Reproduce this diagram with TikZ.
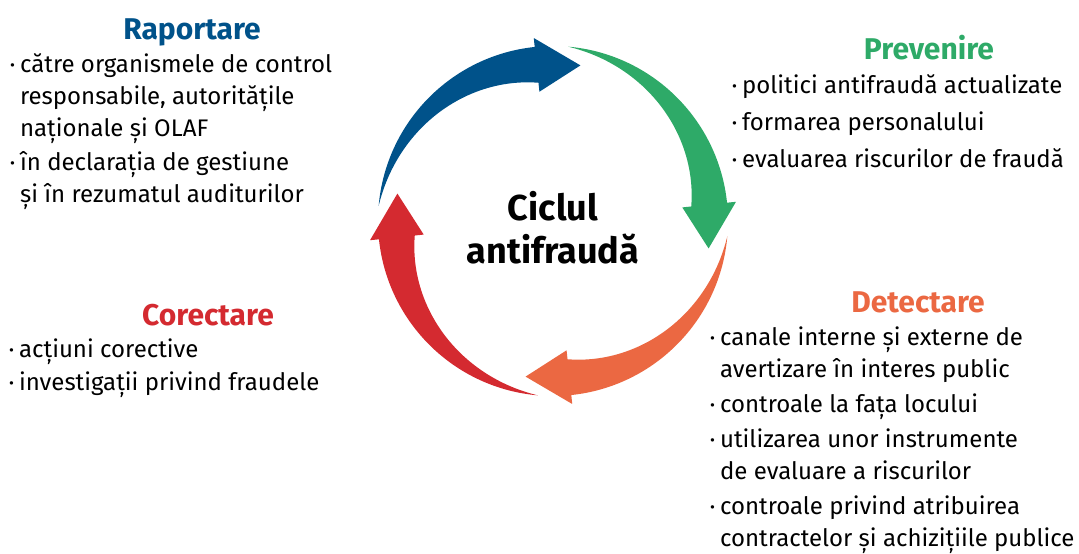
\documentclass[tikz,border=0pt]{standalone}
\usepackage{fontspec}
\setmainfont{Fira Sans}
\usepackage{tikz}
\usetikzlibrary{positioning}
\usetikzlibrary{calc}
\definecolor{rapblue}{RGB}{0,82,138}
\definecolor{prevgreen}{RGB}{46,170,104}
\definecolor{detorange}{RGB}{235,104,66}
\definecolor{corred}{RGB}{212,42,48}
\tikzset{every picture/.style={x=1pt,y=1pt},heading/.style={font=\fontsize{30}{36}\selectfont\bfseries,inner sep=0pt,anchor=base},bulletlist/.style={font=\fontsize{24}{32}\selectfont,inner sep=0pt,anchor=base west}}
\newcommand{\blt}{\raisebox{1.5pt}{\fontsize{15}{15}\selectfont\textbullet}}
\newcommand{\cyclearrow}[2]{%
\fill[#2] (#1:175) arc[start angle=#1, end angle=#1-79, radius=175] -- (#1-79:184) -- (#1-95:158) -- (#1-79:130) -- (#1-79:139)
 -- plot[domain=#1-79:#1, samples=40] (\x:{139+36*(\x-(#1)+79)/79}) -- cycle;}

\begin{document}
\begin{tikzpicture}
\useasboundingbox (0,0) rectangle (1079,-554);
\begin{scope}[shift={(553,-221)}]
\foreach \ang/\col in {175/rapblue, 85/prevgreen, -5/detorange, -95/corred} {
\cyclearrow{\ang}{\col}
}
\end{scope}
\node (ciclu) at (553,-220) [anchor=base, inner sep=0pt, font=\fontsize{36}{43}\selectfont\bfseries] {Ciclul};
\node (antifr) at (553,-263) [anchor=base, inner sep=0pt, font=\fontsize{36}{43}\selectfont\bfseries] {antifraudă};
\node (rap) at (192,-39) [heading, rapblue] {Raportare};
\node (raplist) at (10,-72) [bulletlist] {\begin{tabular}[t]{@{}l@{\hspace{5pt}}l@{}}
\blt & către organismele de control\\
 & responsabile, autoritățile\\
 & naționale și OLAF\\[2pt]
\blt & în declarația de gestiune\\
 & și în rezumatul auditurilor
\end{tabular}};
\node (prev) at (929,-59) [heading, prevgreen] {Prevenire};
\node (prevlist) at (732,-93) [bulletlist] {\begin{tabular}[t]{@{}l@{\hspace{5pt}}l@{}}
\blt & politici antifraudă actualizate\\[5pt]
\blt & formarea personalului\\[5pt]
\blt & evaluarea riscurilor de fraudă
\end{tabular}};
\node (det) at (918,-312) [heading, detorange] {Detectare};
\node (detlist) at (710,-345) [bulletlist] {\begin{tabular}[t]{@{}l@{\hspace{5pt}}l@{}}
\blt & canale interne și externe de\\
 & avertizare în interes public\\[3pt]
\blt & controale la fața locului\\[3pt]
\blt & utilizarea unor instrumente\\
 & de evaluare a riscurilor\\[3pt]
\blt & controale privind atribuirea\\
 & contractelor și achizițiile publice
\end{tabular}};
\node (cor) at (208,-325) [heading, corred] {Corectare};
\node (corlist) at (9,-357) [bulletlist] {\begin{tabular}[t]{@{}l@{\hspace{5pt}}l@{}}
\blt & acțiuni corective\\[1pt]
\blt & investigații privind fraudele
\end{tabular}};
\end{tikzpicture}
\end{document}
